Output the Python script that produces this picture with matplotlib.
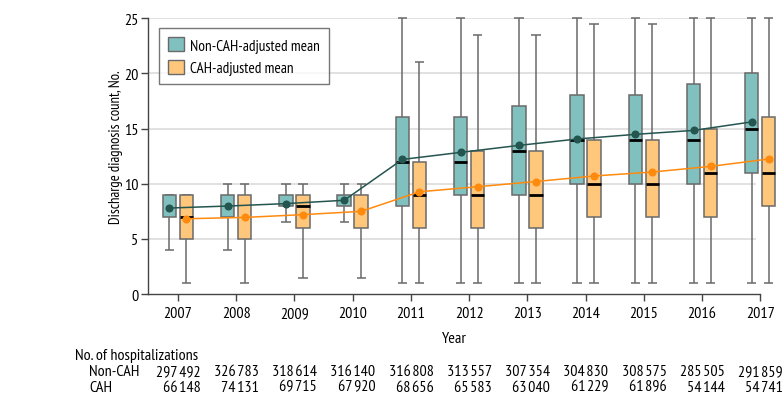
import numpy as np
import matplotlib
matplotlib.use("Agg")
import matplotlib.pyplot as plt
from matplotlib.patches import Patch

plt.rcParams['font.family'] = ['PT Sans Narrow', 'DejaVu Sans']

years = np.arange(2007, 2018)

# non-CAH-adjusted distribution
non_low = [4, 4, 6.5, 6.5, 1, 1, 1, 1, 1, 1, 1]
non_q1 = [7, 7, 8, 8, 8, 9, 9, 10, 10, 10, 11]
non_med = [np.nan, np.nan, np.nan, np.nan, 12, 12, 13, 14, 14, 14, 15]
non_q3 = [9, 9, 9, 9, 16, 16, 17, 18, 18, 19, 20]
non_high = [9, 10, 10, 10, 25, 25, 25, 25, 25, 25, 25]
non_mean = [7.8, 7.98, 8.2, 8.5, 12.2, 12.84, 13.47, 14.05, 14.47, 14.83, 15.6]

# CAH-adjusted distribution
cah_low = [1, 1, 1.5, 1.5, 1, 1, 1, 1, 1, 1, 1]
cah_q1 = [5, 5, 6, 6, 6, 6, 6, 7, 7, 7, 8]
cah_med = [7, np.nan, 8, np.nan, 9, 9, 9, 10, 10, 11, 11]
cah_q3 = [9, 9, 9, 9, 12, 13, 13, 14, 14, 15, 16]
cah_high = [9, 10, 10, 10, 21, 23.5, 23.5, 24.5, 24.5, 25, 25]
cah_mean = [6.83, 6.95, 7.2, 7.5, 9.27, 9.73, 10.2, 10.7, 11.06, 11.57, 12.24]

n_non = ["297 492", "326 783", "318 614", "316 140", "316 808", "313 557",
         "307 354", "304 830", "308 575", "285 505", "291 859"]
n_cah = ["66 148", "74 131", "69 715", "67 920", "68 656", "65 583",
         "63 040", "61 229", "61 896", "54 144", "54 741"]

teal_fill = "#80c1bf"
teal_dark = "#24554f"
orange_fill = "#fec77c"
orange_dark = "#ff8a0d"
edge = "#6a6a6a"

fig = plt.figure(figsize=(7.83, 4.06), dpi=100)
ax = fig.add_axes([0.189, 0.273, 0.782, 0.68])

off = 0.146
bw = 0.23
cw = 0.16


def draw_boxes(x, low, q1, med, q3, high, fill):
    x = np.asarray(x, dtype=float)
    ax.vlines(x, low, q1, color=edge, lw=1.1, zorder=2, clip_on=False)
    ax.vlines(x, q3, high, color=edge, lw=1.1, zorder=2, clip_on=False)
    ax.hlines(low, x - cw / 2, x + cw / 2, color=edge, lw=1.1, zorder=2, clip_on=False)
    ax.hlines(high, x - cw / 2, x + cw / 2, color=edge, lw=1.1, zorder=2, clip_on=False)
    ax.bar(x, np.subtract(q3, q1), bottom=q1, width=bw, color=fill,
           edgecolor=edge, linewidth=1.1, zorder=3, clip_on=False)
    ax.hlines(med, x - bw / 2, x + bw / 2, color="black", lw=2, zorder=4, clip_on=False)


draw_boxes(years - off, non_low, non_q1, non_med, non_q3, non_high, teal_fill)
draw_boxes(years + off, cah_low, cah_q1, cah_med, cah_q3, cah_high, orange_fill)

ax.plot(years - off, non_mean, color=teal_dark, lw=1.1, marker="o", ms=4.8,
        zorder=5, clip_on=False)
ax.plot(years + off, cah_mean, color=orange_dark, lw=1.1, marker="o", ms=4.8,
        zorder=5, clip_on=False)

x0, x1 = 2006.485, 2017.0
ax.set_xlim(x0, x1)
ax.set_ylim(0, 25)
ax.hlines([5, 10, 15, 20, 25], x0, 2016.92, color="#dcdcdc", lw=1.2, zorder=0)

for s in ["top", "right"]:
    ax.spines[s].set_visible(False)
for s in ["left", "bottom"]:
    ax.spines[s].set_color("#444444")
    ax.spines[s].set_linewidth(1)

ax.set_xticks(years)
ax.set_yticks([0, 5, 10, 15, 20, 25])
ax.tick_params(axis="both", labelsize=11.5, color="#444444", length=5, width=1)
ax.tick_params(axis="y", pad=2)
ax.set_xlabel("Year", fontsize=11.5, labelpad=8)
ax.set_ylabel("Discharge diagnosis count, No.", fontsize=10.5)
ax.yaxis.set_label_coords(-0.041, 0.536)

handles = [Patch(facecolor=teal_fill, edgecolor=edge, label="Non-CAH-adjusted mean"),
           Patch(facecolor=orange_fill, edgecolor=edge, label="CAH-adjusted mean")]
leg = ax.legend(handles=handles, loc="upper left", bbox_to_anchor=(0.018, 0.964),
                borderaxespad=0, fontsize=11, frameon=True, fancybox=False,
                edgecolor="#555555", handlelength=1.05, handleheight=1.05,
                handletextpad=0.35, borderpad=0.6, labelspacing=0.45)
leg.get_frame().set_linewidth(1)

# hospitalization counts table
ax.text(-0.12, -0.222, "No. of hospitalizations", transform=ax.transAxes,
        fontsize=11.5, va="center", ha="left")
ax.text(-0.096, -0.28, "Non-CAH", transform=ax.transAxes, fontsize=11.5,
        va="center", ha="left")
ax.text(-0.096, -0.335, "CAH", transform=ax.transAxes, fontsize=11.5,
        va="center", ha="left")
trans = ax.get_xaxis_transform()
for yr, a, b in zip(years, n_non, n_cah):
    ax.text(yr + 0.39, -0.28, a.replace(" ", "\u200a"), transform=trans,
            fontsize=11.5, va="center", ha="right")
    ax.text(yr + 0.39, -0.335, b.replace(" ", "\u200a"), transform=trans,
            fontsize=11.5, va="center", ha="right")

fig.savefig("out.png", dpi=100)
